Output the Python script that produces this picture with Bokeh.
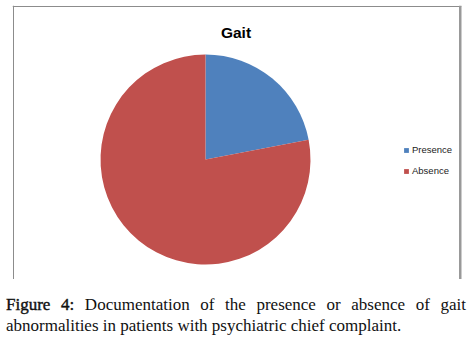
import numpy as np
from bokeh.plotting import figure
from bokeh.models import ColumnDataSource, Range1d, Label, Div
from bokeh.layouts import column
from bokeh.embed import file_html
from bokeh.resources import INLINE

# ---- data ----
categories = ["Presence", "Absence"]
values = [22, 78]
colors = ["#4F81BD", "#C0504D"]
title_text = "Gait"
caption_label = "Figure 4:"
caption_line1 = "Documentation of the presence or absence of gait"
caption_line2 = "abnormalities in patients with psychiatric chief complaint."

fractions = np.array(values, dtype=float) / sum(values)
cum = np.concatenate([[0.0], np.cumsum(fractions)])
start = np.pi / 2 - 2 * np.pi * cum[:-1]
end = np.pi / 2 - 2 * np.pi * cum[1:]

src = ColumnDataSource(dict(cat=categories, val=values, color=colors,
                            start=start, end=end))

FW, FH = 449, 274
p = figure(width=462, height=279, x_range=Range1d(0, FW), y_range=Range1d(0, FH),
           output_backend="svg", toolbar_location=None,
           min_border_left=12, min_border_right=1, min_border_top=5, min_border_bottom=0)
p.xaxis.visible = False
p.yaxis.visible = False
p.grid.visible = False
p.outline_line_color = None
p.background_fill_color = "white"
p.border_fill_color = "white"

p.wedge(x=193, y=120, radius=105, start_angle="start", end_angle="end",
        direction="clock", fill_color="color", line_color=None,
        source=src, legend_field="cat")

# chart border (left, top, right shadow)
p.vspan(x=[0.5], line_color="#8c8c8c", line_width=1)
p.hspan(y=[FH - 0.5], line_color="#8c8c8c", line_width=1)
p.vspan(x=[FW - 1.5], line_color="#999999", line_width=3)

p.add_layout(Label(x=223.5, y=247, text=title_text, text_align="center",
                   text_baseline="alphabetic", text_font="Liberation Sans",
                   text_font_style="bold", text_font_size="15.5px", text_color="#000000"))

lg = p.legend[0]
lg.location = (391, 103)
lg.border_line_color = None
lg.background_fill_alpha = 0
lg.padding = 0
lg.margin = 0
lg.spacing = 10
lg.label_height = 10
lg.glyph_height = 6
lg.glyph_width = 6
lg.label_standoff = 3
lg.label_text_font = "Liberation Sans"
lg.label_text_font_size = "9.5px"
lg.label_text_color = "#222222"

div = Div(text=(f"<span style='-webkit-text-stroke:0.4px #111'>{caption_label}</span> "
                f"<span>{caption_line1}</span> <span>{caption_line2}</span>"),
          width=460, margin=(15, 0, 0, 6),
          styles={"font-family": "'Liberation Serif', serif", "font-size": "17px",
                  "line-height": "21px", "text-align": "justify", "color": "#111111"})

layout = column(p, div, spacing=0)
open("out.html", "w").write(file_html(layout, INLINE))
